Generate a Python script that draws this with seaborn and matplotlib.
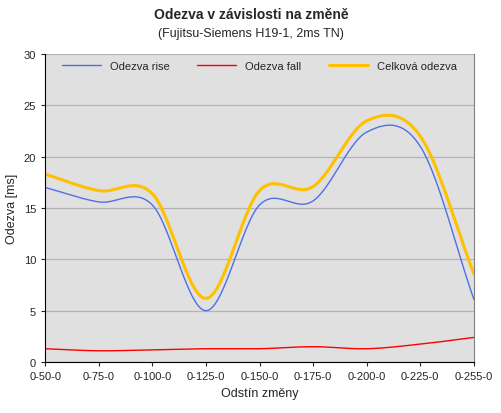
import numpy as np
import pandas as pd
import matplotlib
matplotlib.use("Agg")
import matplotlib.pyplot as plt
import seaborn as sns

categories = ["0-50-0", "0-75-0", "0-100-0", "0-125-0", "0-150-0",
              "0-175-0", "0-200-0", "0-225-0", "0-255-0"]
rise = [17.0, 15.6, 15.3, 5.0, 15.3, 15.7, 22.4, 21.0, 6.1]
fall = [1.3, 1.1, 1.2, 1.3, 1.3, 1.5, 1.3, 1.75, 2.4]
total = [18.3, 16.7, 16.4, 6.2, 16.7, 17.1, 23.5, 22.0, 8.6]


def smooth(y, n=30):
    # Catmull-Rom curve through the points, like Excel's smoothed line
    y = np.asarray(y, float)
    x = np.arange(len(y), dtype=float)
    px = np.concatenate([[2 * x[0] - x[1]], x, [2 * x[-1] - x[-2]]])
    py = np.concatenate([[2 * y[0] - y[1]], y, [2 * y[-1] - y[-2]]])
    xs, ys = [], []
    t = np.linspace(0, 1, n, endpoint=False)
    for i in range(1, len(px) - 2):
        for arr, out in ((px, xs), (py, ys)):
            p0, p1, p2, p3 = arr[i - 1:i + 3]
            out.extend(0.5 * (2 * p1 + (-p0 + p2) * t + (2 * p0 - 5 * p1 + 4 * p2 - p3) * t ** 2
                              + (-p0 + 3 * p1 - 3 * p2 + p3) * t ** 3))
    xs.append(x[-1]); ys.append(y[-1])
    return np.array(xs), np.array(ys)


sns.set_style("white")
plt.rcParams['font.family'] = ['Liberation Sans', 'DejaVu Sans']

fig = plt.figure(figsize=(5.02, 4.14), dpi=100)
ax = fig.add_axes([0.09, 0.123, 0.854, 0.744])
ax.set_facecolor("#E0E0E0")

series = [("Odezva rise", rise, "#4F6FE8", 1.0),
          ("Odezva fall", fall, "#FF0000", 1.0),
          ("Celková odezva", total, "#FFC000", 2.2)]
for name, vals, col, lw in series:
    sx, sy = smooth(vals)
    df = pd.DataFrame({"x": sx, "y": sy})
    sns.lineplot(data=df, x="x", y="y", sort=False, ax=ax, color=col, lw=lw, label=name)

ax.set_xlim(0, len(categories) - 1)
ax.set_ylim(0, 30)
ax.set_yticks(range(0, 31, 5))
ax.yaxis.grid(True, color="#B4B4B4", lw=0.9)
ax.set_axisbelow(True)
ax.set_xticks(range(len(categories)))
ax.set_xticklabels(categories, fontsize=8)
ax.tick_params(axis="y", labelsize=8)
ax.tick_params(axis="both", length=3, direction="out", left=True, bottom=True)
ax.spines["top"].set_visible(False)
ax.spines["right"].set_color("#808080")
ax.spines["left"].set_color("black")
ax.spines["bottom"].set_color("black")
ax.set_xlabel("Odstín změny", fontsize=9)
ax.set_ylabel("Odezva [ms]", fontsize=9)
ax.legend(loc="upper center", ncol=3, frameon=False, fontsize=8,
          bbox_to_anchor=(0.5, 1.01), handlelength=3.5, columnspacing=2.5)
fig.text(0.5, 0.955, "Odezva v závislosti na změně", ha="center", fontsize=10, fontweight="bold")
fig.text(0.5, 0.91, "(Fujitsu-Siemens H19-1, 2ms TN)", ha="center", fontsize=9)
fig.savefig("out.png", dpi=100)
